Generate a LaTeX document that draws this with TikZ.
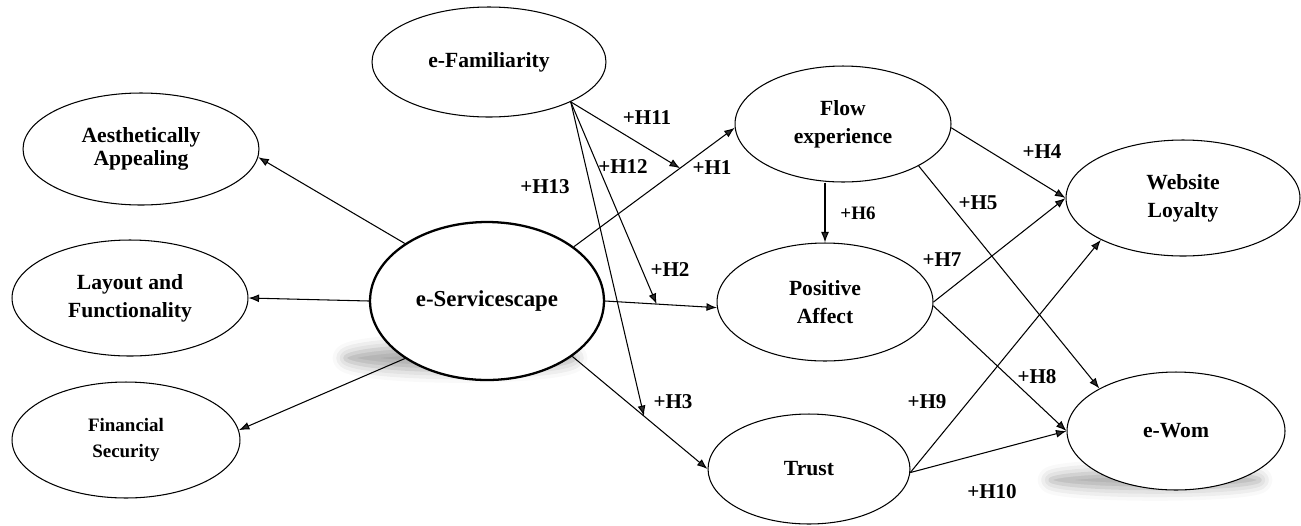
\documentclass[tikz,border=0pt]{standalone}
\usepackage{fontspec}
\setmainfont{Liberation Serif}
\usetikzlibrary{shapes.geometric, arrows.meta, shadows.blur}

\begin{document}
\begin{tikzpicture}[
	x=0.02cm, y=-0.02cm,
	construct/.style={ellipse, draw, fill=white, line width=0.6pt, inner sep=0pt, align=center, font=\bfseries\fontsize{12.3}{16}\selectfont},
	edge/.style={draw, line width=0.6pt, -{Latex[length=6pt, width=4.5pt]}},
	hyp/.style={font=\bfseries\fontsize{12}{14}\selectfont, inner sep=1pt},
	smudge/.style={blur shadow={shadow xshift=0pt, shadow yshift=0pt, shadow blur radius=7pt, shadow opacity=35}}
	]
	\useasboundingbox (0,0) rectangle (1301,525);
	
	% Shadows
	\path [smudge] (460,358) ellipse [x radius=2.3cm, y radius=0.25cm];
	\path [smudge] (1155,480) ellipse [x radius=2.1cm, y radius=0.17cm];
	
	% Define nodes
	\node [construct, minimum width=4.68cm, minimum height=2.2cm] (familiarity) at (489,62) {e-Familiarity};
	\node [construct, minimum width=4.72cm, minimum height=2.24cm] (aesthetic) at (141,149) {Aesthetically\\[-3pt]Appealing};
	\node [construct, minimum width=4.72cm, minimum height=2.32cm] (layout) at (130,298) {Layout and\\Functionality};
	\node [construct, minimum width=4.56cm, minimum height=2.32cm, font=\bfseries\fontsize{10.8}{15}\selectfont] (financial) at (126,440) {Financial\\Security};
	\node [construct, line width=1.3pt, minimum width=4.68cm, minimum height=3.16cm, font=\bfseries\fontsize{13}{16}\selectfont] (servicescape) at (487,301) {e-Servicescape};
	\node [construct, minimum width=4.32cm, minimum height=2.32cm] (flow) at (843,124) {Flow\\experience};
	\node [construct, minimum width=4.32cm, minimum height=2.36cm] (affect) at (825,302) {Positive\\Affect};
	\node [construct, minimum width=4.04cm, minimum height=2.2cm] (trust) at (809,469) {Trust};
	\node [construct, minimum width=4.68cm, minimum height=2.32cm] (loyalty) at (1183,198) {Website\\Loyalty};
	\node [construct, minimum width=4.36cm, minimum height=2.36cm] (ewom) at (1176,431) {e-Wom};
	
	% Hypothesis labels
	\node [hyp] (H1) at (712,168) {+H1};
	\node [hyp] (H2) at (670,270) {+H2};
	\node [hyp] (H3) at (673,402) {+H3};
	\node [hyp] (H4) at (1042,152) {+H4};
	\node [hyp] (H5) at (978,203) {+H5};
	\node [hyp, font=\bfseries\fontsize{10.8}{12}\selectfont] (H6) at (858,213) {+H6};
	\node [hyp] (H7) at (942,260) {+H7};
	\node [hyp] (H8) at (1037,377) {+H8};
	\node [hyp] (H9) at (927,402) {+H9};
	\node [hyp] (H10) at (992,492) {+H10};
	\node [hyp] (H11) at (647,118) {+H11};
	\node [hyp] (H12) at (623,167) {+H12};
	\node [hyp] (H13) at (545,187) {+H13};
	
	% Draw edges
	\path [edge] (servicescape.145) -- (aesthetic.-4);
	\path [edge] (servicescape.west) -- (layout.east);
	\path [edge] (servicescape.215) -- (financial.5);
	\path [edge] (servicescape.32) -- (flow.182) coordinate [pos=0.66] (h11tip);
	\path [edge] (servicescape.east) -- (affect.183) coordinate [pos=0.46] (h12tip);
	\path [edge] (servicescape.-33) -- (trust.west) coordinate [pos=0.53] (h13tip);
	\path [edge] (familiarity.-26) -- (h11tip);
	\path [edge] (familiarity.-26) -- (h12tip);
	\path [edge] (familiarity.-26) -- (h13tip);
	\path [edge] (flow.south -| affect.north) -- (affect.north);
	\path [edge] (flow.-2) -- (loyalty.west);
	\path [edge] (flow.-29) -- (ewom.151);
	\path [edge] (affect.east) -- (loyalty.west);
	\path [edge] (affect.-2) -- (ewom.west);
	\path [edge] (trust.-2) -- (loyalty.207);
	\path [edge] (trust.-2) -- (ewom.west);
	
\end{tikzpicture}
\end{document}
